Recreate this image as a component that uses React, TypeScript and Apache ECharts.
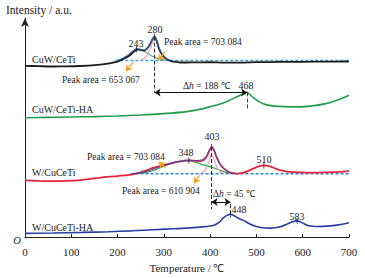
import React, { useEffect, useRef } from "react";
import * as echarts from "echarts";

// ---------- data (temperature °C, relative intensity) ----------
const xTicks = [0, 100, 200, 300, 400, 500, 600, 700];

const cuwCeTi = [
  [0, 172], [30, 171.6], [60, 171.3], [90, 171.4], [120, 171.8], [150, 172.6], [175, 174],
  [200, 176.3], [215, 179.3], [227, 182.5], [236, 186.5], [243, 188.5], [250, 188], [257, 187.3],
  [264, 189.5], [270, 193.5], [275, 198.5], [280, 201.3], [285, 196.5], [289, 190], [294, 185],
  [300, 181.3], [307, 178.5], [314, 177], [325, 176], [336, 175.3], [360, 175.4], [400, 175.6],
  [430, 175.2], [460, 175.2], [500, 175.6], [550, 175.9], [600, 176], [650, 176.2], [700, 176.3],
];
const cuwCeTiHA = [
  [0, 119.8], [50, 120.2], [100, 120.6], [150, 121], [200, 121.6], [250, 122.6], [300, 124],
  [350, 126], [380, 128.5], [400, 131], [420, 133.5], [440, 137], [458, 141], [470, 143.5],
  [480, 145.3], [487, 142.5], [494, 139.7], [505, 136], [520, 133], [540, 131.5], [560, 131],
  [590, 130.8], [620, 131.8], [650, 134], [680, 138.5], [700, 142.5],
];
const wCuCeTi = [
  [0, 57], [30, 56.5], [60, 56.2], [90, 56.5], [120, 57.3], [163, 59.7], [200, 61.3], [234, 63],
  [256, 66], [278, 69.7], [300, 72.3], [320, 74.5], [336, 76], [348, 77], [365, 76.8], [379, 76.3],
  [388, 78], [394, 82], [399, 87.5], [403, 90.5], [408, 87.5], [414, 80], [422, 73], [432, 68],
  [444, 64.7], [459, 63.7], [470, 64.5], [480, 66], [492, 68.5], [505, 71], [516, 72], [528, 71.3],
  [540, 69], [553, 67], [566, 65.7], [590, 65], [620, 64.7], [650, 64.9], [680, 65.5], [700, 66.3],
];
const wCuCeTiHA = [
  [0, 3.7], [60, 4.1], [123, 4.7], [180, 5.4], [231, 6.3], [303, 8], [350, 9], [383, 10.3],
  [400, 11.2], [410, 12.2], [419, 14.7], [429, 19.5], [437, 22], [444, 23], [452, 21.5],
  [460, 19.2], [469, 17.3], [478, 15.2], [487, 13], [498, 11], [509, 9.7], [530, 9], [552, 10.3],
  [566, 13], [578, 15.5], [588, 16.3], [596, 15], [602, 13.7], [613, 11.3], [630, 10.6],
  [660, 11.3], [680, 12.5], [700, 14.5],
];

// fitted components
const cuwFitGreen = [
  [200, 177.3], [212, 179], [222, 182], [232, 186], [241, 188.5], [250, 188], [258, 186.5],
  [266, 184], [275, 181.5], [285, 179.5], [295, 178.2], [305, 177.5],
];
const cuwFitPink = [
  [248, 177.3], [255, 178.5], [262, 181.5], [268, 186], [273, 192], [277, 197.5], [280, 199.5],
  [283, 197.5], [287, 192], [292, 186], [297, 181], [303, 178.5], [310, 177.4],
];
const cuwFitSum = [
  [198, 177.3], [210, 179.5], [222, 183], [232, 187], [241, 189.5], [250, 188.5], [258, 188],
  [265, 190], [271, 194.5], [276, 199.5], [280, 201.3], [284, 198], [289, 191], [295, 185],
  [301, 181], [308, 178.5], [316, 177.6],
];
const wFitGreen = [
  [232, 63.7], [256, 64.5], [278, 67], [296, 70.5], [314, 73.5], [333, 75.8], [352, 76.5],
  [370, 75], [386, 72.5], [403, 70.3], [422, 67], [434, 65], [450, 63.9], [460, 63.7],
];
const wFitPink = [
  [376, 63.7], [384, 65], [390, 68], [395, 72.5], [399, 78], [403, 83], [406, 81], [410, 76],
  [415, 70], [421, 66], [428, 64],
];
const wFitSum = [
  [232, 63.8], [256, 65], [278, 68.5], [300, 72], [320, 75], [340, 76.5], [354, 77.2], [370, 76.8],
  [384, 78], [392, 81.5], [398, 87], [403, 90.3], [408, 88], [413, 82], [419, 75.5], [426, 70],
  [435, 66.5], [445, 64.5], [456, 63.8],
];
const cuwBaseline = [[195, 177.3], [700, 177.3]];
const wBaseline = [[228, 63.7], [700, 63.7]];

// peak tick marks
const peakMarks = [[241, 188.5], [280, 201.3], [354, 77], [403, 90.5], [516, 72], [444, 23], [588, 16.3]];

// texts
const curveNames = ["CuW/CeTi", "CuW/CeTi-HA", "W/CuCeTi", "W/CuCeTi-HA"];
const peakLabels = ["243", "280", "468", "348", "403", "510", "448", "583"];
const peakAreas = ["Peak area = 703 084", "Peak area = 653 067", "Peak area = 703 084", "Peak area = 610 904"];
const deltaLabels = ["188", "45"];

const SERIF = "Liberation Serif, serif";
const INK = "#222";

export default function App() {
  const ref = useRef<HTMLDivElement>(null);

  useEffect(() => {
    document.body.style.margin = "0";
    if (!ref.current) return;
    const chart = echarts.init(ref.current, undefined, { renderer: "svg" });

    const line = (data: number[][], color: string, width: number, extra: any = {}) => ({
      type: "line",
      data,
      smooth: 0.25,
      showSymbol: false,
      symbol: "none",
      silent: true,
      lineStyle: { color, width },
      ...extra,
    });

    const ml = (segs: any[], color: string, type: string, symbol: any, width = 1) => ({
      silent: true,
      symbol,
      symbolSize: 6,
      label: { show: false },
      lineStyle: { color, type, width },
      emphasis: { disabled: true },
      data: segs.map(([a, b]: any) => [{ coord: a }, { coord: b }]),
    });

    const txt = (text: string, x: number, y: number, size = 10, align = "left", extra: any = {}) => ({
      type: "text",
      x,
      y,
      silent: true,
      style: {
        text,
        fontFamily: SERIF,
        fontSize: size,
        fontStyle: extra.italic ? "italic" : "normal",
        fill: INK,
        align,
        verticalAlign: "middle",
        textAlign: align,
        textVerticalAlign: "middle",
        ...(extra.rich ? { rich: extra.rich } : {}),
      },
    });

    const richI = (size: number) => ({
      i: { fontStyle: "italic", fontSize: size, fontFamily: SERIF, fill: INK },
    });

    const option: any = {
      animation: false,
      textStyle: { fontFamily: SERIF },
      grid: { left: 25, right: 16, top: 18, bottom: 40 },
      xAxis: {
        type: "value",
        min: 0,
        max: 700,
        interval: 100,
        axisLine: { lineStyle: { color: INK, width: 1 } },
        axisTick: { inside: true, length: 3, lineStyle: { color: INK } },
        axisLabel: {
          margin: 9,
          fontFamily: SERIF,
          fontSize: 11,
          color: INK,
          formatter: (v: number) => (xTicks.includes(v) ? String(v) : ""),
        },
        splitLine: { show: false },
        name: "Temperature / ℃",
        nameLocation: "middle",
        nameGap: 23,
        nameTextStyle: { fontFamily: SERIF, fontSize: 11, color: INK },
      },
      yAxis: {
        type: "value",
        min: 0,
        max: 220,
        axisLine: { show: true, symbol: ["none", "arrow"], symbolSize: [6, 9], lineStyle: { color: INK, width: 1 } },
        axisTick: { show: false },
        axisLabel: { show: false },
        splitLine: { show: false },
      },
      series: [
        line(cuwBaseline, "#35a3e6", 1.5, { smooth: false, lineStyle: { color: "#35a3e6", width: 1.5, type: [3, 2] } }),
        line(wBaseline, "#2c86d8", 1.5, { smooth: false, lineStyle: { color: "#2c86d8", width: 1.5, type: [3, 2] } }),
        line(cuwFitGreen, "#3aa66a", 1.1),
        line(cuwFitPink, "#f29bb2", 1.1),
        line(wFitGreen, "#3aa64e", 1.3),
        line(wFitPink, "#f29bb2", 1.1),
        line(cuwCeTi, "#1c1c1c", 1.8, {
          markLine: ml([[[280, 201.3], [280, 145.3]]], "#333", "dashed", "none", 1),
        }),
        line(cuwCeTiHA, "#1f9d4c", 1.6, {
          markLine: ml([[[480, 145.3], [480, 128]]], "#444", "dashed", "none", 1),
        }),
        line(wCuCeTi, "#e8233d", 1.7, {
          markLine: ml([[[403, 90.5], [403, 28]]], "#333", "dashed", "none", 1),
        }),
        line(wCuCeTiHA, "#2b3ea6", 1.6, {
          markLine: ml([[[444, 33], [444, 23]]], "#333", "dashed", "none", 1),
        }),
        line(cuwFitSum, "#2f6fd0", 1, { z: 3 }),
        line(wFitSum, "#3a3fb5", 1, { z: 3 }),
        {
          type: "line",
          data: [],
          silent: true,
          markLine: ml(
            [
              [[280, 145.3], [480, 145.3]],
              [[403, 35.3], [444, 35.3]],
            ],
            "#111", "solid", ["arrow", "arrow"], 1
          ),
        },
        {
          type: "line",
          data: [],
          silent: true,
          markLine: ml(
            [
              [[235, 176.3], [218, 166.5]],
              [[302, 186], [288, 177.5]],
              [[303.5, 69.7], [289, 75.7]],
              [[377, 62], [365, 54]],
            ],
            "#f5a21b", "solid", ["none", "arrow"], 1.2
          ),
        },
        {
          type: "scatter",
          data: peakMarks,
          symbol: "rect",
          symbolSize: [1, 6],
          silent: true,
          itemStyle: { color: "#222" },
          z: 5,
        },
      ],
      graphic: [
        txt("Intensity / a.u.", 6, 10, 11.5),
        txt(curveNames[0], 32, 59, 10),
        txt(curveNames[1], 32, 109.5, 10),
        txt(curveNames[2], 32, 172.5, 10),
        txt(curveNames[3], 32, 227.5, 10),
        txt(peakLabels[0], 136, 43.5, 10, "center"),
        txt(peakLabels[1], 155, 29, 10, "center"),
        txt(peakLabels[2], 246, 85, 10, "center"),
        txt(peakLabels[3], 186, 152, 10, "center"),
        txt(peakLabels[4], 212, 136, 10, "center"),
        txt(peakLabels[5], 264, 159.5, 10, "center"),
        txt(peakLabels[6], 239, 209, 10, "center"),
        txt(peakLabels[7], 297, 216.5, 10, "center"),
        txt(peakAreas[0], 164, 41.5, 9.5),
        txt(peakAreas[1], 62, 80, 9.5),
        txt(peakAreas[2], 87, 157, 9.5),
        txt(peakAreas[3], 122, 190.5, 9.5),
        txt(`Δ{i|h} = ${deltaLabels[0]} ℃`, 183, 86, 9.5, "left", { rich: richI(9.5) }),
        txt(`Δ{i|h} = ${deltaLabels[1]} ℃`, 213, 193.5, 9.5, "left", { rich: richI(9.5) }),
        txt("O", 17, 240.5, 10.5, "center", { italic: true }),
      ],
    };

    chart.setOption(option);
    return () => chart.dispose();
  }, []);

  return <div ref={ref} style={{ width: 365, height: 278 }} />;
}
